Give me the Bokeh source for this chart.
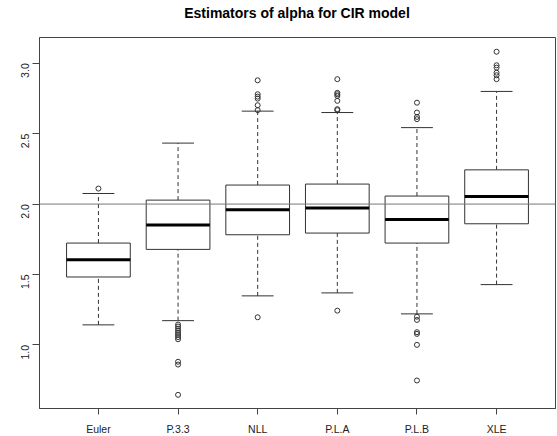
import math
from bokeh.plotting import figure
from bokeh.layouts import column
from bokeh.models import Range1d, FixedTicker, Span, ColumnDataSource, Div
from bokeh.embed import file_html
from bokeh.resources import INLINE

title_text = "Estimators of alpha for CIR model"
categories = ["Euler", "P.3.3", "NLL", "P.L.A", "P.L.B", "XLE"]
lower_whisker = [1.142, 1.172, 1.348, 1.369, 1.220, 1.428]
q1 = [1.482, 1.678, 1.782, 1.794, 1.723, 1.860]
median = [1.605, 1.851, 1.960, 1.972, 1.891, 2.054]
q3 = [1.723, 2.028, 2.135, 2.142, 2.057, 2.243]
upper_whisker = [2.075, 2.433, 2.660, 2.650, 2.543, 2.800]
outliers = {
    "Euler": [2.11],
    "P.3.3": [1.144, 1.13, 1.115, 1.10, 1.085, 1.07, 1.055, 1.04, 0.88, 0.86, 0.645],
    "NLL": [2.879, 2.78, 2.763, 2.749, 2.702, 2.667, 1.196],
    "P.L.A": [2.887, 2.79, 2.78, 2.768, 2.733, 2.674, 2.667, 1.243],
    "P.L.B": [2.72, 2.65, 2.619, 2.603, 1.20, 1.177, 1.09, 1.078, 1.0, 0.747],
    "XLE": [3.082, 2.986, 2.969, 2.933, 2.915, 2.887],
}
reference_value = 2.0
y_ticks = [1.0, 1.5, 2.0, 2.5, 3.0]

xs = [i + 1 for i in range(len(categories))]
src = ColumnDataSource(dict(x=xs, lw=lower_whisker, q1=q1, med=median, q3=q3, uw=upper_whisker,
                            cl=[x - 0.2 for x in xs], cr=[x + 0.2 for x in xs],
                            bl=[x - 0.4 for x in xs], br=[x + 0.4 for x in xs]))
ox, oy = [], []
for i, c in enumerate(categories):
    for v in outliers[c]:
        ox.append(xs[i]); oy.append(v)

title_div = Div(
    text=('<div style="width:516px;margin-left:39px;padding-top:5px;text-align:center;'
          "font-family:'Liberation Sans';font-size:14px;font-weight:bold;line-height:16px;color:black\">"
          + title_text + "</div>"),
    width=557, height=21, margin=(0, 0, 0, 0))

p = figure(frame_width=516, frame_height=371, output_backend="svg", toolbar_location=None,
           x_range=Range1d(0.26, 6.74), y_range=Range1d(0.548, 3.183),
           min_border_left=39, min_border_right=2, min_border_top=16, min_border_bottom=28,
           margin=(0, 0, 0, 0))

p.xgrid.visible = False
p.ygrid.visible = False
p.outline_line_color = "#444444"
p.outline_line_width = 1
p.background_fill_color = "white"
p.border_fill_color = "white"

lc = "#333333"
p.segment(x0="x", y0="q3", x1="x", y1="uw", source=src, line_color=lc, line_dash="4 3", line_width=1)
p.segment(x0="x", y0="lw", x1="x", y1="q1", source=src, line_color=lc, line_dash="4 3", line_width=1)
p.segment(x0="cl", y0="uw", x1="cr", y1="uw", source=src, line_color=lc, line_width=1)
p.segment(x0="cl", y0="lw", x1="cr", y1="lw", source=src, line_color=lc, line_width=1)
p.quad(left="bl", right="br", bottom="q1", top="q3", source=src, fill_color="white", line_color=lc, line_width=1)
p.segment(x0="bl", y0="med", x1="br", y1="med", source=src, line_color="black", line_width=3)
p.scatter(ox, oy, size=5, marker="circle", fill_color=None, line_color=lc, line_width=1)

p.add_layout(Span(location=reference_value, dimension="width", line_color="#777777", line_width=1))

for ax in (p.xaxis[0], p.yaxis[0]):
    ax.axis_line_color = "#444444"
    ax.major_tick_line_color = "#444444"
    ax.major_tick_in = 0
    ax.minor_tick_line_color = None
    ax.major_label_text_font = "Liberation Sans"
    ax.major_label_text_font_size = "10.5px"
    ax.major_label_text_color = "#222222"

p.xaxis[0].ticker = FixedTicker(ticks=xs)
p.xaxis[0].major_label_overrides = {x: c for x, c in zip(xs, categories)}
p.xaxis[0].major_tick_out = 6
p.xaxis[0].major_label_standoff = 8
p.yaxis[0].ticker = FixedTicker(ticks=y_ticks)
p.yaxis[0].major_label_overrides = {t: f"{t:.1f}" for t in y_ticks}
p.yaxis[0].major_label_orientation = math.pi / 2
p.yaxis[0].major_tick_out = 7
p.yaxis[0].major_label_standoff = 7

layout = column(title_div, p, spacing=0)
open("out.html", "w").write(file_html(layout, INLINE))
